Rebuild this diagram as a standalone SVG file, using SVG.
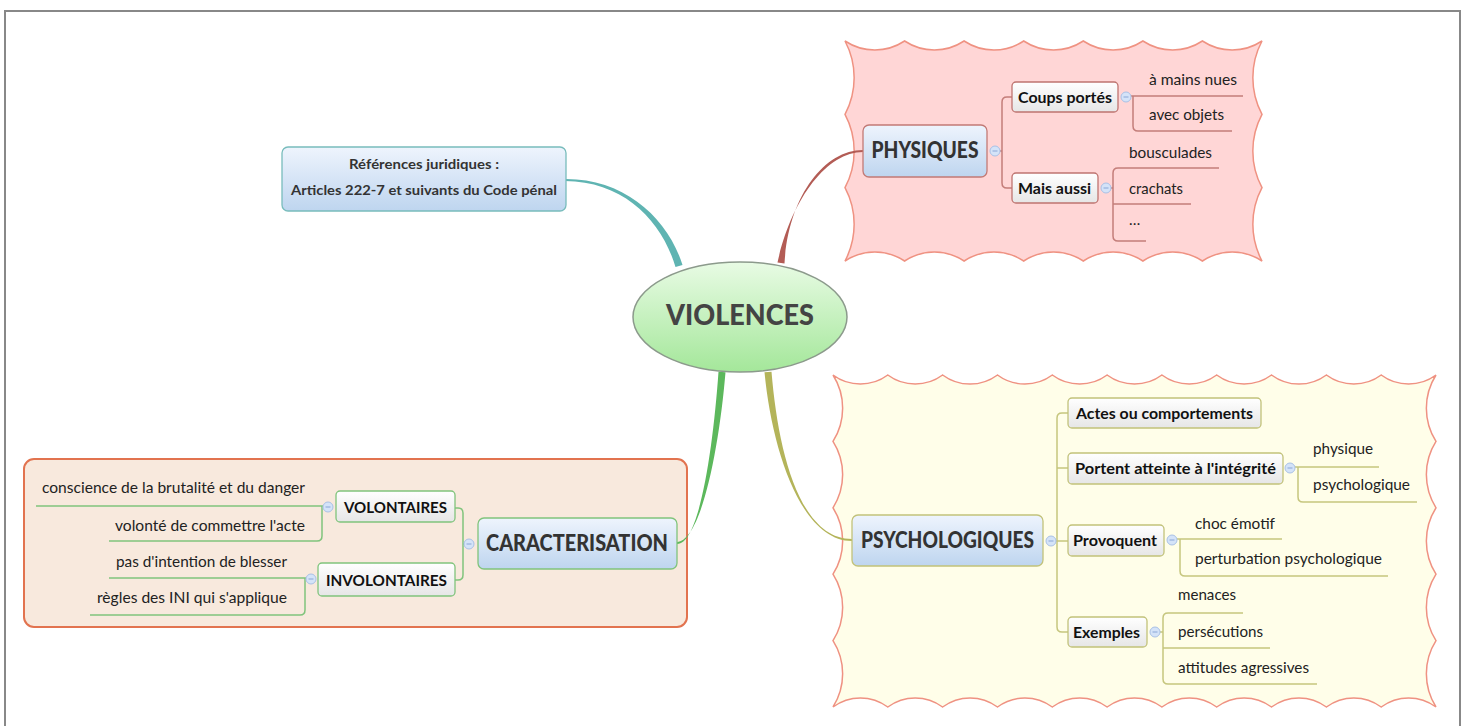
<svg xmlns="http://www.w3.org/2000/svg" xmlns:xlink="http://www.w3.org/1999/xlink" width="1467" height="726" viewBox="0 0 1467 726">
<defs>
<linearGradient id="gBlue" x1="0" y1="0" x2="0" y2="1"><stop offset="0" stop-color="#eef4fd"/><stop offset="1" stop-color="#bed5ef"/></linearGradient>
<linearGradient id="gWhite" x1="0" y1="0" x2="0" y2="1"><stop offset="0" stop-color="#ffffff"/><stop offset="1" stop-color="#e6e6e6"/></linearGradient>
<linearGradient id="gGreen" x1="0" y1="0" x2="0" y2="1"><stop offset="0" stop-color="#e8fbe4"/><stop offset="1" stop-color="#a4e79a"/></linearGradient>
<g id="minus"><circle r="5" fill="#d4e3f8" stroke="#a9c1e6" stroke-width="1"/><line x1="-2.5" y1="0" x2="2.5" y2="0" stroke="#8aa6d6" stroke-width="1"/></g>
<style>
text{font-family:Lato,"DejaVu Sans",sans-serif}
.main{font-weight:900;fill:#333;text-anchor:middle}
.sub{font-weight:700;font-size:15.5px;fill:#111}
.leaf{font-size:15px;fill:#222}
.ln{fill:none;stroke-width:1.5}
.lnP{stroke:#c47e7a}
.lnC{stroke:#80c47c}
.lnY{stroke:#c6c67e}
.boxP{fill:url(#gWhite);stroke:#bf7470;stroke-width:1.3}
.boxC{fill:url(#gWhite);stroke:#80c47c;stroke-width:1.3}
.boxY{fill:url(#gWhite);stroke:#c2c27a;stroke-width:1.3}
</style>
</defs>
<rect width="1467" height="726" fill="#ffffff"/>
<rect x="5" y="11" width="1455" height="740" fill="none" stroke="#888888" stroke-width="2"/>

<g id="zone-physiques">
<path d="M845,41 A54,54 0 0 0 904.6,41 A54,54 0 0 0 964.1,41 A54,54 0 0 0 1023.7,41 A54,54 0 0 0 1083.3,41 A54,54 0 0 0 1142.9,41 A54,54 0 0 0 1202.4,41 A54,54 0 0 0 1262,41 A78,78 0 0 0 1262,114.3 A78,78 0 0 0 1262,187.7 A78,78 0 0 0 1262,261 A54,54 0 0 0 1202.4,261 A54,54 0 0 0 1142.9,261 A54,54 0 0 0 1083.3,261 A54,54 0 0 0 1023.7,261 A54,54 0 0 0 964.1,261 A54,54 0 0 0 904.6,261 A54,54 0 0 0 845,261 A78,78 0 0 0 845,187.7 A78,78 0 0 0 845,114.3 A78,78 0 0 0 845,41 Z" fill="#ffd6d6" stroke="#ef9282" stroke-width="1.5"/>
</g>
<g id="zone-psychologiques">
<path d="M833,375 A46,46 0 0 0 887.8,375 A46,46 0 0 0 942.6,375 A46,46 0 0 0 997.5,375 A46,46 0 0 0 1052.3,375 A46,46 0 0 0 1107.1,375 A46,46 0 0 0 1161.9,375 A46,46 0 0 0 1216.7,375 A46,46 0 0 0 1271.5,375 A46,46 0 0 0 1326.4,375 A46,46 0 0 0 1381.2,375 A46,46 0 0 0 1436,375 A62,62 0 0 0 1436,441.4 A62,62 0 0 0 1436,507.8 A62,62 0 0 0 1436,574.2 A62,62 0 0 0 1436,640.6 A62,62 0 0 0 1436,707 A46,46 0 0 0 1381.2,707 A46,46 0 0 0 1326.4,707 A46,46 0 0 0 1271.5,707 A46,46 0 0 0 1216.7,707 A46,46 0 0 0 1161.9,707 A46,46 0 0 0 1107.1,707 A46,46 0 0 0 1052.3,707 A46,46 0 0 0 997.5,707 A46,46 0 0 0 942.6,707 A46,46 0 0 0 887.8,707 A46,46 0 0 0 833,707 A62,62 0 0 0 833,640.6 A62,62 0 0 0 833,574.2 A62,62 0 0 0 833,507.8 A62,62 0 0 0 833,441.4 A62,62 0 0 0 833,375 Z" fill="#fffee9" stroke="#ef9282" stroke-width="1.5"/>
</g>
<g id="zone-caracterisation">
<rect x="24" y="459" width="663" height="168" rx="10" fill="#f8e9dd" stroke="#e2734f" stroke-width="2"/>
</g>

<g id="connectors">
<path d="M565,179 C625,178.5 668,218.5 682.5,265 L675.5,267 C662,221.5 625,181.5 565,181 Z" fill="#5fb4b2"/>
<path d="M863,150 C823,150 788,199 784.5,263.5 L777.5,262.5 C791,201 826,152 863,152 Z" fill="#b35c55"/>
<path d="M677,542 C701,541 719,450 725.5,372.2 L718.5,371.8 C713,450 699,545 677,544 Z" fill="#5cb85c"/>
<path d="M852,539 C799,539 778,450 771.5,371.7 L764.5,372.3 C772,450 801,541 852,541 Z" fill="#b4b45a"/>

<path class="ln lnP" d="M1000,151 H1002 M1012,97 H1007 Q1002,97 1002,102 V183 Q1002,188 1007,188 H1012"/>
<path class="ln lnP" d="M1131,96 H1243 M1133,96 V126 Q1133,131 1138,131 H1232"/>
<path class="ln lnP" d="M1111,188 H1113 M1219,168 H1118 Q1113,168 1113,173 V236 Q1113,241 1118,241 H1146 M1113,204 H1191"/>

<path class="ln lnC" d="M464,544 H463 M455,508 H458 Q463,508 463,513 V575 Q463,580 458,580 H455"/>
<path class="ln lnC" d="M323,506 H36 M322,506 V536 Q322,541 317,541 H109"/>
<path class="ln lnC" d="M306,578 H109 M305,578 V610 Q305,615 300,615 H90"/>

<path class="ln lnY" d="M1056,541 H1068 M1068,413 H1062 Q1057,413 1057,418 V627 Q1057,632 1062,632 H1068 M1057,468 H1068"/>
<path class="ln lnY" d="M1295,467 H1379 M1298,467 V497 Q1298,502 1303,502 H1417"/>
<path class="ln lnY" d="M1177,539 H1282 M1180,539 V571 Q1180,576 1185,576 H1388"/>
<path class="ln lnY" d="M1160,632 H1163 M1243,613 H1168 Q1163,613 1163,618 V679 Q1163,684 1168,684 H1317 M1163,648 H1270"/>
</g>

<g id="node-violences">
<ellipse cx="740" cy="317" rx="107" ry="55" fill="url(#gGreen)" stroke="#8c9a8c" stroke-width="1.5"/>
<text class="main" x="740" y="325" font-size="29" fill="#444" style="fill:#444" textLength="148" lengthAdjust="spacingAndGlyphs">VIOLENCES</text>
</g>

<g id="node-references">
<rect x="282" y="147" width="284" height="64" rx="6" fill="url(#gBlue)" stroke="#78bcbc" stroke-width="1.3"/>
<text class="main" x="424" y="169" font-size="13.5" style="font-weight:700" textLength="150" lengthAdjust="spacingAndGlyphs">Références juridiques :</text>
<text class="main" x="424" y="195" font-size="13.5" style="font-weight:700" textLength="266" lengthAdjust="spacingAndGlyphs">Articles 222-7 et suivants du Code pénal</text>
</g>

<g id="node-physiques">
<rect x="863" y="125" width="124" height="52" rx="6" fill="url(#gBlue)" stroke="#c27a76" stroke-width="1.3"/>
<text class="main" x="925" y="158" font-size="22" textLength="107" lengthAdjust="spacingAndGlyphs">PHYSIQUES</text>
<use href="#minus" x="995" y="151"/>
</g>
<g id="node-coups">
<rect class="boxP" x="1012" y="82" width="106" height="30" rx="4"/>
<text class="sub" x="1018" y="102.5" textLength="94" lengthAdjust="spacingAndGlyphs">Coups portés</text>
<use href="#minus" x="1126" y="97"/>
</g>
<g id="node-mains"><text class="leaf" x="1149" y="85" textLength="88" lengthAdjust="spacingAndGlyphs">à mains nues</text></g>
<g id="node-objets"><text class="leaf" x="1149" y="120" textLength="75" lengthAdjust="spacingAndGlyphs">avec objets</text></g>
<g id="node-maisaussi">
<rect class="boxP" x="1012" y="173" width="86" height="30" rx="4"/>
<text class="sub" x="1018" y="194" textLength="73" lengthAdjust="spacingAndGlyphs">Mais aussi</text>
<use href="#minus" x="1106" y="188"/>
</g>
<g id="node-bousculades"><text class="leaf" x="1129" y="158" textLength="83" lengthAdjust="spacingAndGlyphs">bousculades</text></g>
<g id="node-crachats"><text class="leaf" x="1129" y="194" textLength="54" lengthAdjust="spacingAndGlyphs">crachats</text></g>
<g id="node-etc"><text class="leaf" x="1129" y="225">…</text></g>

<g id="node-caracterisation">
<rect x="478" y="518" width="199" height="51" rx="6" fill="url(#gBlue)" stroke="#80c47c" stroke-width="1.3"/>
<text class="main" x="577" y="551" font-size="22" textLength="182" lengthAdjust="spacingAndGlyphs">CARACTERISATION</text>
<use href="#minus" x="469" y="544"/>
</g>
<g id="node-volontaires">
<rect class="boxC" x="336" y="491" width="119" height="31" rx="4"/>
<text class="sub" x="395.5" y="512.5" text-anchor="middle" textLength="103" lengthAdjust="spacingAndGlyphs">VOLONTAIRES</text>
<use href="#minus" x="328" y="507"/>
</g>
<g id="node-conscience"><text class="leaf" x="305" y="493" text-anchor="end" textLength="263" lengthAdjust="spacingAndGlyphs">conscience de la brutalité et du danger</text></g>
<g id="node-volonte"><text class="leaf" x="305" y="531" text-anchor="end" textLength="190" lengthAdjust="spacingAndGlyphs">volonté de commettre l'acte</text></g>
<g id="node-involontaires">
<rect class="boxC" x="318" y="563" width="137" height="33" rx="4"/>
<text class="sub" x="386.5" y="585.5" text-anchor="middle" textLength="121" lengthAdjust="spacingAndGlyphs">INVOLONTAIRES</text>
<use href="#minus" x="311" y="579"/>
</g>
<g id="node-intention"><text class="leaf" x="287" y="567" text-anchor="end" textLength="171" lengthAdjust="spacingAndGlyphs">pas d'intention de blesser</text></g>
<g id="node-regles"><text class="leaf" x="287" y="603" text-anchor="end" textLength="190" lengthAdjust="spacingAndGlyphs">règles des INI qui s'applique</text></g>

<g id="node-psychologiques">
<rect x="852" y="515" width="191" height="51" rx="6" fill="url(#gBlue)" stroke="#c2c27a" stroke-width="1.3"/>
<text class="main" x="947.5" y="548" font-size="22" textLength="173" lengthAdjust="spacingAndGlyphs">PSYCHOLOGIQUES</text>
<use href="#minus" x="1051" y="541"/>
</g>
<g id="node-actes">
<rect class="boxY" x="1068" y="398" width="193" height="30" rx="4"/>
<text class="sub" x="1076" y="418.5" textLength="177" lengthAdjust="spacingAndGlyphs">Actes ou comportements</text>
</g>
<g id="node-portent">
<rect class="boxY" x="1068" y="453" width="215" height="31" rx="4"/>
<text class="sub" x="1075" y="474" textLength="201" lengthAdjust="spacingAndGlyphs">Portent atteinte à l'intégrité</text>
<use href="#minus" x="1290" y="468"/>
</g>
<g id="node-physique"><text class="leaf" x="1313" y="454" textLength="60" lengthAdjust="spacingAndGlyphs">physique</text></g>
<g id="node-psychologique"><text class="leaf" x="1313" y="490" textLength="97" lengthAdjust="spacingAndGlyphs">psychologique</text></g>
<g id="node-provoquent">
<rect class="boxY" x="1068" y="525" width="96" height="31" rx="4"/>
<text class="sub" x="1073" y="546" textLength="84" lengthAdjust="spacingAndGlyphs">Provoquent</text>
<use href="#minus" x="1172" y="540"/>
</g>
<g id="node-choc"><text class="leaf" x="1195" y="529" textLength="80" lengthAdjust="spacingAndGlyphs">choc émotif</text></g>
<g id="node-perturbation"><text class="leaf" x="1195" y="564" textLength="187" lengthAdjust="spacingAndGlyphs">perturbation psychologique</text></g>
<g id="node-exemples">
<rect class="boxY" x="1068" y="617" width="79" height="30" rx="4"/>
<text class="sub" x="1073" y="637.5" textLength="67" lengthAdjust="spacingAndGlyphs">Exemples</text>
<use href="#minus" x="1155" y="632"/>
</g>
<g id="node-menaces"><text class="leaf" x="1178" y="600" textLength="58" lengthAdjust="spacingAndGlyphs">menaces</text></g>
<g id="node-persecutions"><text class="leaf" x="1178" y="637" textLength="85" lengthAdjust="spacingAndGlyphs">persécutions</text></g>
<g id="node-attitudes"><text class="leaf" x="1178" y="673" textLength="131" lengthAdjust="spacingAndGlyphs">attitudes agressives</text></g>
</svg>
